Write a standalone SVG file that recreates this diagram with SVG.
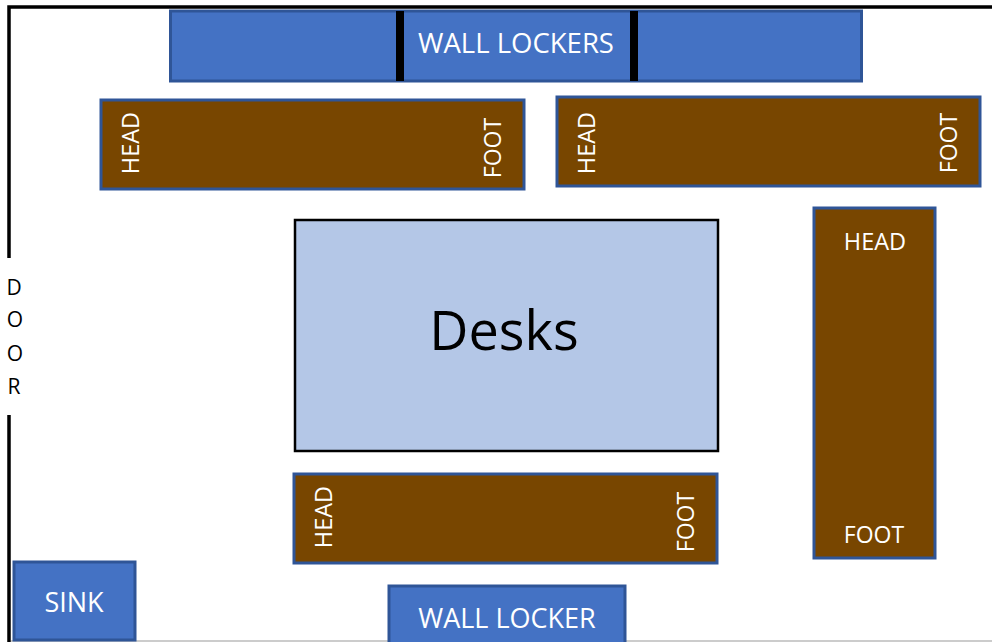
<svg xmlns="http://www.w3.org/2000/svg" width="992" height="642" viewBox="0 0 992 642">
<style>
text{font-family:"Open Sans","Noto Sans",sans-serif;fill:#fff;font-size:27px}
.b{fill:#4472c4;stroke:#2f5597;stroke-width:3}
.h{fill:#784600;stroke:#2f5597;stroke-width:3}
.w{fill:none;stroke:#000;stroke-width:3.5}
.s{font-size:23.500px}
.t{font-size:23px}
.d{fill:#000;font-size:21px}
.l{font-size:27.500px}
</style>
<rect width="992" height="642" fill="#fff"/>
<g id="walls"><path d="M11 641H992" stroke="#bbb" stroke-width="1.500"/><path class="w" d="M992 7H9V258M9 415V642"/></g>
<g id="wall-lockers"><rect class="b" x="170.500" y="11" width="691" height="70"/><rect x="396" y="11" width="8" height="70" fill="#000"/><rect x="630" y="11" width="8" height="70" fill="#000"/><text class="l" x="516" y="52.500" text-anchor="middle">WALL LOCKERS</text></g>
<g id="bunk-1"><rect class="h" x="101" y="100" width="423" height="89"/><text class="s" transform="translate(139 143) rotate(-90)" text-anchor="middle">HEAD</text><text class="s t" transform="translate(501 148) rotate(-90)" text-anchor="middle">FOOT</text></g>
<g id="bunk-2"><rect class="h" x="557" y="97" width="423" height="89"/><text class="s" transform="translate(595 143) rotate(-90)" text-anchor="middle">HEAD</text><text class="s t" transform="translate(957 143) rotate(-90)" text-anchor="middle">FOOT</text></g>
<g id="bunk-3"><rect class="h" x="814" y="208" width="121" height="350"/><text class="s" x="875" y="250" text-anchor="middle">HEAD</text><text class="s t" x="874" y="543" text-anchor="middle">FOOT</text></g>
<g id="bunk-4"><rect class="h" x="294" y="474" width="423" height="89"/><text class="s" transform="translate(332 517) rotate(-90)" text-anchor="middle">HEAD</text><text class="s t" transform="translate(694 522) rotate(-90)" text-anchor="middle">FOOT</text></g>
<g id="desks"><rect x="295" y="220" width="423" height="231" fill="#b4c7e7" stroke="#000" stroke-width="2.500"/><text x="504" y="350" text-anchor="middle" style="fill:#000;font-size:54px">Desks</text></g>
<g id="sink"><rect class="b" x="14" y="562" width="121" height="78"/><text x="74" y="612" text-anchor="middle">SINK</text></g>
<g id="wall-locker"><rect class="b" x="389" y="586" width="236" height="60"/><text x="507" y="628" text-anchor="middle">WALL LOCKER</text></g>
<g id="door"><text class="d" x="14" y="295" text-anchor="middle">D</text><text class="d" x="15" y="327" text-anchor="middle">O</text><text class="d" x="15" y="361" text-anchor="middle">O</text><text class="d" x="14" y="394" text-anchor="middle">R</text></g>
</svg>
